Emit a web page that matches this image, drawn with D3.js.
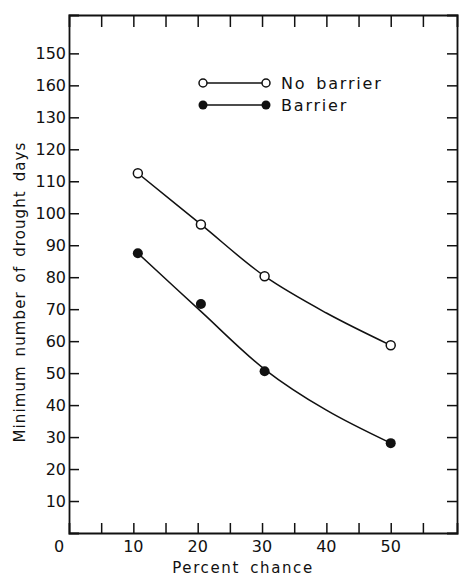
<!DOCTYPE html>
<html>
<head>
<meta charset="utf-8">
<script src="https://cdn.jsdelivr.net/npm/d3@7"></script>
<style>
  body { margin: 0; background: #fff; }
  text { font-family: "DejaVu Sans", sans-serif; fill: #111; }
</style>
</head>
<body>
<div id="chart"></div>
<script>
// percent chance (x) of each plotted point
var chance = [10.7, 20.5, 30.4, 50];
var noBarrier = [112.5, 96.5, 80.3, 58.7];
var barrier = [87.5, 71.6, 50.6, 28.1];

// smooth fitted curves as drawn on the figure
var noBarrierCurveX = [10.7, 20.5, 30.4, 40, 50];
var noBarrierCurveY = [112.5, 96.5, 80.3, 68.8, 58.7];
var barrierCurveX = [10.7, 20.5, 30.4, 40, 50];
var barrierCurveY = [87.5, 69.3, 51.2, 38.4, 28.1];

var xTickValues = [0, 10, 20, 30, 40, 50];
var xMinorTicks = [5, 10, 15, 20, 25, 30, 35, 40, 45, 50, 55];
var yTickValues = [10, 20, 30, 40, 50, 60, 70, 80, 90, 100, 110, 120, 130, 140, 150];
// labels as printed on the original (top two read 160, 150)
var yTickLabels = ["10", "20", "30", "40", "50", "60", "70", "80", "90", "100", "110", "120", "130", "160", "150"];

var legendNames = ["No barrier", "Barrier"];

var width = 459, height = 576;
var svg = d3.select("#chart").append("svg")
  .attr("width", width)
  .attr("height", height);

var x = d3.scaleLinear().domain([0, 60.3]).range([69, 457]);
var y = d3.scaleLinear().domain([0, 162]).range([533, 15]);

var tickLen = 10;

// bottom axis (ticks point inward)
var xAxis = d3.axisBottom(x).tickValues(xMinorTicks).tickSize(-tickLen).tickFormat("");
svg.append("g").attr("transform", "translate(0," + y(0) + ")").call(xAxis);
// top axis
svg.append("g").attr("transform", "translate(0," + y(162) + ")")
  .call(d3.axisTop(x).tickValues(xMinorTicks).tickSize(-tickLen - 2).tickFormat(""));
// left axis
var yAxis = d3.axisLeft(y).tickValues(yTickValues).tickSize(-tickLen)
  .tickFormat(function(d, i) { return yTickLabels[i]; });
var gy = svg.append("g").attr("transform", "translate(" + x(0) + ",0)").call(yAxis);
// right axis
svg.append("g").attr("transform", "translate(" + x(60.3) + ",0)")
  .call(d3.axisRight(y).tickValues(yTickValues).tickSize(-tickLen).tickFormat(""));

svg.selectAll(".domain").attr("stroke", "#111").attr("stroke-width", 1.8);
svg.selectAll(".tick line").attr("stroke", "#111").attr("stroke-width", 1.5);

gy.selectAll(".tick text")
  .attr("x", -3)
  .style("font-size", "16px")
  .style("font-family", "DejaVu Sans, sans-serif")
  .attr("fill", "#111");

// x labels
var gx = svg.append("g");
gx.selectAll("text").data(xTickValues).enter().append("text")
  .attr("x", function(d) { return d == 0 ? x(d) - 10 : x(d); })
  .attr("y", 552)
  .attr("text-anchor", "middle")
  .style("font-size", "16px")
  .text(function(d) { return d; });

// axis titles
svg.append("text")
  .attr("x", 243).attr("y", 573)
  .attr("text-anchor", "middle")
  .style("font-size", "15px")
  .style("letter-spacing", "1.6px")
  .style("word-spacing", "4px")
  .text("Percent chance");

svg.append("text")
  .attr("transform", "translate(25,292) rotate(-90)")
  .attr("text-anchor", "middle")
  .style("font-size", "15px")
  .style("letter-spacing", "1.1px")
  .style("word-spacing", "3px")
  .text("Minimum number of drought days");

// fitted curves
var line = d3.line()
  .x(function(d) { return x(d[0]); })
  .y(function(d) { return y(d[1]); })
  .curve(d3.curveCatmullRom.alpha(0.5));

svg.append("path")
  .datum(d3.zip(noBarrierCurveX, noBarrierCurveY))
  .attr("d", line)
  .attr("fill", "none").attr("stroke", "#111").attr("stroke-width", 1.5);
svg.append("path")
  .datum(d3.zip(barrierCurveX, barrierCurveY))
  .attr("d", line)
  .attr("fill", "none").attr("stroke", "#111").attr("stroke-width", 1.5);

// points
svg.selectAll(".nb").data(d3.zip(chance, noBarrier)).enter().append("circle")
  .attr("cx", function(d) { return x(d[0]); })
  .attr("cy", function(d) { return y(d[1]); })
  .attr("r", 4.5)
  .attr("fill", "#fff").attr("stroke", "#111").attr("stroke-width", 1.5);
svg.selectAll(".b").data(d3.zip(chance, barrier)).enter().append("circle")
  .attr("cx", function(d) { return x(d[0]); })
  .attr("cy", function(d) { return y(d[1]); })
  .attr("r", 5)
  .attr("fill", "#111");

// legend
var legend = svg.append("g");
legendNames.forEach(function(name, i) {
  var ly = 83 + i * 22;
  legend.append("line")
    .attr("x1", 203).attr("x2", 266).attr("y1", ly).attr("y2", ly)
    .attr("stroke", "#111").attr("stroke-width", 1.5);
  [203, 266].forEach(function(cx) {
    legend.append("circle")
      .attr("cx", cx).attr("cy", ly)
      .attr("r", i == 0 ? 4 : 4.5)
      .attr("fill", i == 0 ? "#fff" : "#111")
      .attr("stroke", "#111").attr("stroke-width", i == 0 ? 1.5 : 0);
  });
  legend.append("text")
    .attr("x", 281).attr("y", ly + 6)
    .style("font-size", "16px")
    .style("letter-spacing", "1.8px")
    .style("word-spacing", "3px")
    .text(name);
});
</script>
</body>
</html>
